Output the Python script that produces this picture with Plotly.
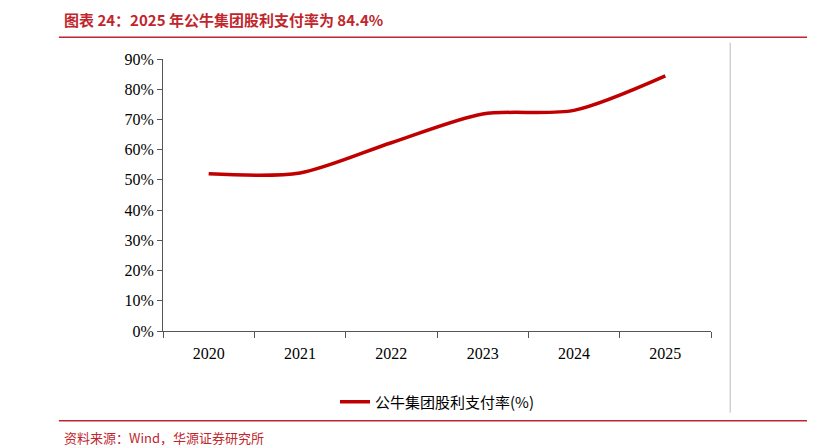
import plotly.graph_objects as go

years = ["2020", "2021", "2022", "2023", "2024", "2025"]
payout = [52.0, 52.3, 62.3, 71.8, 73.0, 84.4]

fig = go.Figure()
fig.add_trace(go.Scatter(
    x=years, y=payout, mode="lines", name="公牛集团股利支付率(%)",
    line=dict(color="#C00000", width=3.5, shape="spline", smoothing=0.8),
))

red = "#C0272D"
fig.update_layout(
    width=815, height=446,
    margin=dict(l=155, r=112, t=51, b=123, autoexpand=False),
    plot_bgcolor="white", paper_bgcolor="white",
    font=dict(family="Times New Roman, Liberation Serif, serif", size=16, color="black"),
    showlegend=True,
    legend=dict(orientation="h", x=0.5, xanchor="center", y=-0.2, yanchor="top",
                font=dict(family="Noto Sans CJK SC, Liberation Serif", size=15)),
    xaxis=dict(type="category", range=[-0.5, 5.5], tickson="boundaries", showline=True,
               linecolor="#555", ticks="outside", ticklen=6, tickcolor="#555",
               showgrid=False, automargin=False, ticklabelstandoff=8),
    yaxis=dict(range=[0, 90], dtick=10, ticksuffix="%", showline=True, linecolor="#555",
               ticks="outside", ticklen=5, tickcolor="#555", showgrid=False, automargin=False),
    shapes=[
        dict(type="line", xref="paper", yref="paper", x0=-0.19, x1=1.2, y0=1.08, y1=1.08,
             line=dict(color=red, width=1.5)),
        dict(type="line", xref="paper", yref="paper", x0=-0.19, x1=1.2, y0=-0.33, y1=-0.33,
             line=dict(color=red, width=1.5)),
        dict(type="line", xref="paper", yref="paper", x0=1.035, x1=1.035, y0=-0.3, y1=1.06,
             line=dict(color="#bbb", width=1)),
    ],
    annotations=[
        dict(text="<b>图表 24：2025 年公牛集团股利支付率为 84.4%</b>", xref="paper", yref="paper",
             x=-0.185, y=1.1, xanchor="left", yanchor="bottom", showarrow=False,
             font=dict(family="Noto Sans CJK SC", size=15, color=red)),
        dict(text="资料来源：Wind，华源证券研究所", xref="paper", yref="paper",
             x=-0.185, y=-0.35, xanchor="left", yanchor="top", showarrow=False,
             font=dict(family="Noto Sans CJK SC", size=13, color=red)),
    ],
)

fig.write_html("out.html")
